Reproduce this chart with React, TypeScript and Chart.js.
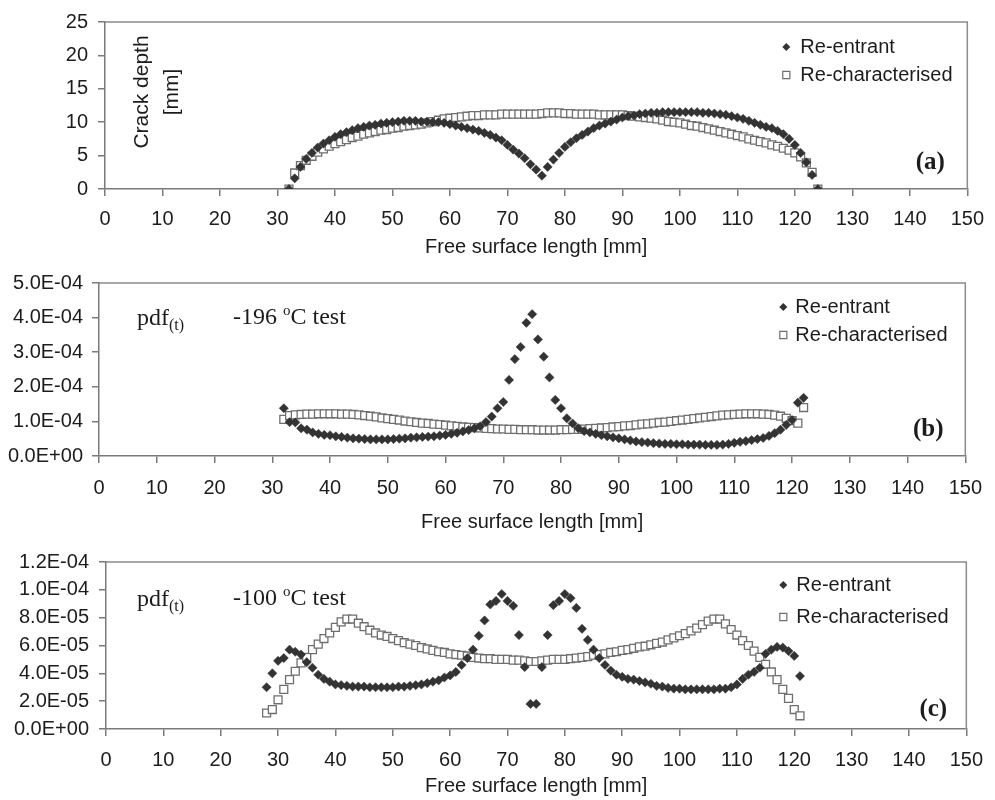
import React, { useEffect, useRef } from 'react';
import { Chart, registerables } from 'chart.js';

Chart.register(...registerables);

// ---------------- DATA ----------------
// (a) Crack depth [mm] vs free surface length [mm]
const xA = [32, 33, 34, 35, 36, 37, 38, 39, 40, 41, 42, 43, 44, 45, 46, 47, 48, 49, 50, 51, 52, 53, 54, 55, 56, 57, 58, 59, 60, 61, 62, 63, 64, 65, 66, 67, 68, 69, 70, 71, 72, 73, 74, 75, 76, 77, 78, 79, 80, 81, 82, 83, 84, 85, 86, 87, 88, 89, 90, 91, 92, 93, 94, 95, 96, 97, 98, 99, 100, 101, 102, 103, 104, 105, 106, 107, 108, 109, 110, 111, 112, 113, 114, 115, 116, 117, 118, 119, 120, 121, 122, 123, 124];
const reentrantA = [
  0, 1.6, 3.3, 4.5, 5.4, 6.2, 6.8, 7.3, 7.8, 8.2,
  8.5, 8.8, 9.1, 9.3, 9.5, 9.6, 9.8, 9.9, 10.0, 10.1,
  10.2, 10.2, 10.2, 10.1, 10.1, 10.0, 10.0, 9.9, 9.7, 9.5,
  9.3, 9.1, 8.9, 8.7, 8.4, 8.1, 7.7, 7.3, 6.6, 5.9,
  5.3, 4.6, 3.7, 2.9, 2.0, 3.3, 4.4, 5.4, 6.3, 7.0,
  7.6, 8.1, 8.6, 9.1, 9.5, 9.8, 10.1, 10.4, 10.7, 10.9,
  11.0, 11.2, 11.3, 11.4, 11.4, 11.5, 11.5, 11.5, 11.5, 11.5,
  11.5, 11.5, 11.4, 11.4, 11.3, 11.2, 11.1, 10.9, 10.7, 10.5,
  10.2, 9.9, 9.6, 9.3, 9.1, 8.7, 8.2, 7.5, 6.6, 5.4,
  4.0, 2.1, 0,
];
const recharA = [
  0, 2.4, 3.5, 4.3, 4.9, 5.5, 6.0, 6.4, 6.8, 7.1,
  7.4, 7.7, 7.9, 8.2, 8.4, 8.6, 8.8, 8.9, 9.1, 9.2,
  9.4, 9.5, 9.6, 9.7, 9.9, 10.1, 10.3, 10.5, 10.6, 10.7,
  10.8, 10.9, 11.0, 11.0, 11.1, 11.1, 11.1, 11.2, 11.2, 11.2,
  11.2, 11.2, 11.2, 11.2, 11.3, 11.4, 11.4, 11.4, 11.3, 11.3,
  11.2, 11.2, 11.2, 11.2, 11.1, 11.1, 11.1, 11.1, 11.1, 11.0,
  10.9, 10.8, 10.7, 10.6, 10.5, 10.3, 10.1, 10.0, 9.9, 9.7,
  9.5, 9.4, 9.2, 9.0, 8.8, 8.6, 8.4, 8.2, 8.0, 7.8,
  7.5, 7.3, 7.1, 6.9, 6.6, 6.4, 6.1, 5.8, 5.4, 4.8,
  3.9, 2.5, 0,
];

// (b) pdf(t), -196 °C test
const xB = [32, 33, 34, 35, 36, 37, 38, 39, 40, 41, 42, 43, 44, 45, 46, 47, 48, 49, 50, 51, 52, 53, 54, 55, 56, 57, 58, 59, 60, 61, 62, 63, 64, 65, 66, 67, 68, 69, 70, 71, 72, 73, 74, 75, 76, 77, 78, 79, 80, 81, 82, 83, 84, 85, 86, 87, 88, 89, 90, 91, 92, 93, 94, 95, 96, 97, 98, 99, 100, 101, 102, 103, 104, 105, 106, 107, 108, 109, 110, 111, 112, 113, 114, 115, 116, 117, 118, 119, 120, 121, 122];
const reentrantB = [
  1.38e-4, 0.98e-4, 0.97e-4, 0.80e-4, 0.76e-4, 0.68e-4, 0.64e-4, 0.61e-4, 0.60e-4, 0.57e-4,
  0.55e-4, 0.53e-4, 0.51e-4, 0.50e-4, 0.49e-4, 0.48e-4, 0.48e-4, 0.48e-4, 0.48e-4, 0.49e-4,
  0.50e-4, 0.51e-4, 0.53e-4, 0.54e-4, 0.55e-4, 0.56e-4, 0.57e-4, 0.59e-4, 0.61e-4, 0.64e-4,
  0.67e-4, 0.71e-4, 0.75e-4, 0.80e-4, 0.86e-4, 0.98e-4, 1.14e-4, 1.38e-4, 1.56e-4, 2.20e-4,
  2.80e-4, 3.15e-4, 3.85e-4, 4.10e-4, 3.37e-4, 2.87e-4, 2.27e-4, 1.62e-4, 1.38e-4, 1.09e-4,
  0.94e-4, 0.80e-4, 0.72e-4, 0.68e-4, 0.64e-4, 0.60e-4, 0.57e-4, 0.54e-4, 0.51e-4, 0.48e-4,
  0.45e-4, 0.42e-4, 0.40e-4, 0.39e-4, 0.37e-4, 0.36e-4, 0.35e-4, 0.35e-4, 0.34e-4, 0.34e-4,
  0.33e-4, 0.33e-4, 0.33e-4, 0.32e-4, 0.32e-4, 0.32e-4, 0.33e-4, 0.35e-4, 0.38e-4, 0.41e-4,
  0.43e-4, 0.46e-4, 0.49e-4, 0.52e-4, 0.58e-4, 0.66e-4, 0.76e-4, 0.90e-4, 1.04e-4, 1.54e-4,
  1.68e-4,
];
const recharB = [
  1.06e-4, 1.17e-4, 1.19e-4, 1.20e-4, 1.21e-4, 1.21e-4, 1.22e-4, 1.22e-4, 1.22e-4, 1.22e-4,
  1.21e-4, 1.21e-4, 1.20e-4, 1.19e-4, 1.17e-4, 1.15e-4, 1.13e-4, 1.10e-4, 1.08e-4, 1.06e-4,
  1.04e-4, 1.01e-4, 0.99e-4, 0.97e-4, 0.95e-4, 0.94e-4, 0.92e-4, 0.91e-4, 0.89e-4, 0.87e-4,
  0.86e-4, 0.84e-4, 0.83e-4, 0.82e-4, 0.81e-4, 0.80e-4, 0.79e-4, 0.78e-4, 0.78e-4, 0.77e-4,
  0.77e-4, 0.76e-4, 0.76e-4, 0.76e-4, 0.75e-4, 0.75e-4, 0.75e-4, 0.75e-4, 0.76e-4, 0.76e-4,
  0.77e-4, 0.77e-4, 0.78e-4, 0.79e-4, 0.80e-4, 0.81e-4, 0.82e-4, 0.84e-4, 0.85e-4, 0.87e-4,
  0.88e-4, 0.90e-4, 0.92e-4, 0.93e-4, 0.95e-4, 0.97e-4, 0.98e-4, 1.00e-4, 1.02e-4, 1.04e-4,
  1.06e-4, 1.08e-4, 1.10e-4, 1.12e-4, 1.14e-4, 1.16e-4, 1.18e-4, 1.19e-4, 1.20e-4, 1.21e-4,
  1.22e-4, 1.22e-4, 1.22e-4, 1.21e-4, 1.20e-4, 1.18e-4, 1.15e-4, 1.09e-4, 1.02e-4, 0.95e-4,
  1.40e-4,
];

// (c) pdf(t), -100 °C test
const xC = [28, 29, 30, 31, 32, 33, 34, 35, 36, 37, 38, 39, 40, 41, 42, 43, 44, 45, 46, 47, 48, 49, 50, 51, 52, 53, 54, 55, 56, 57, 58, 59, 60, 61, 62, 63, 64, 65, 66, 67, 68, 69, 70, 71, 72, 73, 74, 75, 76, 77, 78, 79, 80, 81, 82, 83, 84, 85, 86, 87, 88, 89, 90, 91, 92, 93, 94, 95, 96, 97, 98, 99, 100, 101, 102, 103, 104, 105, 106, 107, 108, 109, 110, 111, 112, 113, 114, 115, 116, 117, 118, 119, 120, 121];
const reentrantC = [
  3.0e-5, 4.0e-5, 4.9e-5, 5.1e-5, 5.7e-5, 5.55e-5, 5.35e-5, 4.8e-5, 4.4e-5, 3.9e-5,
  3.6e-5, 3.4e-5, 3.2e-5, 3.15e-5, 3.1e-5, 3.05e-5, 3.05e-5, 3.05e-5, 3.0e-5, 3.0e-5,
  3.0e-5, 3.0e-5, 3.0e-5, 3.05e-5, 3.05e-5, 3.1e-5, 3.15e-5, 3.2e-5, 3.3e-5, 3.4e-5,
  3.5e-5, 3.7e-5, 3.85e-5, 4.1e-5, 4.6e-5, 5.1e-5, 5.7e-5, 6.7e-5, 7.8e-5, 8.95e-5,
  9.2e-5, 9.7e-5, 9.2e-5, 8.85e-5, 6.75e-5, 4.45e-5, 1.8e-5, 1.8e-5, 4.45e-5, 6.75e-5,
  8.9e-5, 9.2e-5, 9.7e-5, 9.4e-5, 8.7e-5, 7.2e-5, 6.4e-5, 5.7e-5, 5.1e-5, 4.6e-5,
  4.2e-5, 3.9e-5, 3.75e-5, 3.6e-5, 3.55e-5, 3.45e-5, 3.35e-5, 3.25e-5, 3.1e-5, 3.05e-5,
  2.95e-5, 2.9e-5, 2.9e-5, 2.85e-5, 2.85e-5, 2.85e-5, 2.85e-5, 2.85e-5, 2.85e-5, 2.9e-5,
  2.9e-5, 3.0e-5, 3.2e-5, 3.6e-5, 3.9e-5, 4.1e-5, 4.4e-5, 5.4e-5, 5.7e-5, 5.9e-5,
  5.85e-5, 5.6e-5, 5.25e-5, 3.8e-5,
];
const recharC = [
  1.15e-5, 1.4e-5, 2.1e-5, 2.85e-5, 3.55e-5, 4.15e-5, 4.75e-5, 5.15e-5, 5.7e-5, 6.1e-5,
  6.5e-5, 6.9e-5, 7.3e-5, 7.7e-5, 7.9e-5, 7.9e-5, 7.6e-5, 7.35e-5, 7.1e-5, 6.9e-5,
  6.75e-5, 6.65e-5, 6.5e-5, 6.35e-5, 6.2e-5, 6.1e-5, 6.0e-5, 5.85e-5, 5.75e-5, 5.65e-5,
  5.55e-5, 5.5e-5, 5.4e-5, 5.35e-5, 5.3e-5, 5.25e-5, 5.15e-5, 5.1e-5, 5.05e-5, 5.05e-5,
  5.0e-5, 5.0e-5, 5.0e-5, 4.95e-5, 4.95e-5, 4.9e-5, 4.85e-5, 4.85e-5, 4.9e-5, 4.95e-5,
  5.0e-5, 5.0e-5, 5.0e-5, 5.05e-5, 5.1e-5, 5.15e-5, 5.2e-5, 5.3e-5, 5.35e-5, 5.4e-5,
  5.5e-5, 5.55e-5, 5.65e-5, 5.7e-5, 5.8e-5, 5.9e-5, 5.95e-5, 6.05e-5, 6.15e-5, 6.25e-5,
  6.4e-5, 6.55e-5, 6.7e-5, 6.85e-5, 7.05e-5, 7.25e-5, 7.5e-5, 7.75e-5, 7.9e-5, 7.9e-5,
  7.55e-5, 7.15e-5, 6.75e-5, 6.35e-5, 6.0e-5, 5.6e-5, 5.15e-5, 4.65e-5, 4.1e-5, 3.55e-5,
  2.85e-5, 2.2e-5, 1.4e-5, 0.95e-5,
];

const seriesNames = ['Re-entrant', 'Re-characterised'];
const xAxisTitle = 'Free surface length [mm]';
const panelLetters = ['(a)', '(b)', '(c)'];
const testLabels = ['-196 ', '-100 '];

// ---------------- STYLE ----------------
const SANS = '"Liberation Sans", Arial, Helvetica, sans-serif';
const SERIF = '"Liberation Serif", "Times New Roman", serif';
const TEXT = '#1c1c1c';
const AXIS = '#7a7a7a';
const FRAME = '#8c8c8c';
const DIAMOND = '#333333';
const SQUARE_EDGE = '#6e6e6e';

function sci(v: number): string {
  if (Math.abs(v) < 1e-15) return '0.0E+00';
  let e = Math.floor(Math.log10(Math.abs(v)) + 1e-9);
  let m = v / Math.pow(10, e);
  if (Math.abs(m) >= 9.95) { m /= 10; e += 1; }
  const sign = e < 0 ? '-' : '+';
  return m.toFixed(1) + 'E' + sign + String(Math.abs(e)).padStart(2, '0');
}

type Run = { text: string; size: number; family: string; weight?: string; dy?: number };
type Note = {
  fromLeft?: number; fromRight?: number; fromTop?: number; fromBottom?: number;
  align: 'left' | 'center'; rotate?: number; runs: Run[];
};

function drawMarker(ctx: CanvasRenderingContext2D, style: string, x: number, y: number, r: number) {
  ctx.beginPath();
  if (style === 'rectRot') {
    ctx.moveTo(x, y - r); ctx.lineTo(x + r, y); ctx.lineTo(x, y + r); ctx.lineTo(x - r, y); ctx.closePath();
    ctx.fillStyle = DIAMOND; ctx.fill();
  } else {
    const h = r * Math.SQRT1_2;
    ctx.rect(x - h, y - h, 2 * h, 2 * h);
    ctx.fillStyle = '#ffffff'; ctx.fill();
    ctx.strokeStyle = SQUARE_EDGE; ctx.lineWidth = 1.2; ctx.stroke();
  }
}

const decorPlugin = {
  id: 'decor',
  beforeDatasetsDraw(chart: any) {
    const { ctx, chartArea: a } = chart;
    ctx.save();
    ctx.strokeStyle = FRAME;
    ctx.lineWidth = 1.5;
    ctx.beginPath();
    ctx.moveTo(a.left, a.top);
    ctx.lineTo(a.right, a.top);
    ctx.lineTo(a.right, a.bottom);
    ctx.stroke();
    ctx.restore();
  },
  afterDraw(chart: any, _args: any, opts: any) {
    const { ctx, chartArea: a } = chart;
    ctx.save();
    // legend inside the plot area
    const L = opts.legend;
    chart.data.datasets.forEach((ds: any, i: number) => {
      const y = a.top + L.top + i * L.spacing;
      drawMarker(ctx, ds.pointStyle, a.right - L.markerFromRight, y, ds.pointStyle === 'rectRot' ? 4 : 5);
      ctx.font = `20px ${SANS}`;
      ctx.fillStyle = TEXT;
      ctx.textAlign = 'left';
      ctx.textBaseline = 'middle';
      ctx.fillText(ds.label, a.right - L.textFromRight, y);
    });
    // notes
    (opts.notes as Note[]).forEach((n) => {
      const x = n.fromLeft !== undefined ? a.left + n.fromLeft : a.right - (n.fromRight || 0);
      const y = n.fromTop !== undefined ? a.top + n.fromTop : a.bottom - (n.fromBottom || 0);
      ctx.save();
      ctx.translate(x, y);
      if (n.rotate) ctx.rotate(n.rotate);
      ctx.textAlign = 'left';
      ctx.textBaseline = n.align === 'center' ? 'middle' : 'alphabetic';
      ctx.fillStyle = TEXT;
      let total = 0;
      n.runs.forEach((r) => {
        ctx.font = `${r.weight || 'normal'} ${r.size}px ${r.family}`;
        total += ctx.measureText(r.text).width;
      });
      let cx = n.align === 'center' ? -total / 2 : 0;
      n.runs.forEach((r) => {
        ctx.font = `${r.weight || 'normal'} ${r.size}px ${r.family}`;
        ctx.fillText(r.text, cx, r.dy || 0);
        cx += ctx.measureText(r.text).width;
      });
      ctx.restore();
    });
    ctx.restore();
  },
};

type PanelCfg = {
  height: number;
  xs: number[];
  re: number[];
  rc: number[];
  yMax: number;
  yStep: number;
  sciTicks: boolean;
  yWidth: number;
  padTop: number;
  padRight: number;
  xHeight: number;
  xTickPad: number;
  yTickPad: number;
  titlePadBottom: number;
  legend: { top: number; spacing: number; markerFromRight: number; textFromRight: number };
  notes: Note[];
};

function pdfNotes(testIdx: number, pdfLeft: number, testLeft: number, base: number): Note[] {
  return [
    {
      fromLeft: pdfLeft, fromTop: base, align: 'left',
      runs: [
        { text: 'pdf', size: 24, family: SERIF },
        { text: '(t)', size: 16, family: SERIF, dy: 5 },
      ],
    },
    {
      fromLeft: testLeft, fromTop: base - 1, align: 'left',
      runs: [
        { text: testLabels[testIdx], size: 24, family: SERIF },
        { text: 'o', size: 15, family: SERIF, dy: -9 },
        { text: 'C test', size: 24, family: SERIF },
      ],
    },
  ];
}

function letterNote(i: number, fromRight: number, fromBottom: number): Note {
  return {
    fromRight, fromBottom, align: 'center',
    runs: [{ text: panelLetters[i], size: 25, family: SERIF, weight: 'bold' }],
  };
}

const panels: PanelCfg[] = [
  {
    height: 262, xs: xA, re: reentrantA, rc: recharA, yMax: 25, yStep: 5, sciTicks: false,
    yWidth: 105, padTop: 22, padRight: 22, xHeight: 73, xTickPad: 11, yTickPad: 10, titlePadBottom: 3,
    legend: { top: 25, spacing: 28, markerFromRight: 181, textFromRight: 167 },
    notes: [
      { fromLeft: 37, fromTop: 70, align: 'center', rotate: -Math.PI / 2, runs: [{ text: 'Crack depth', size: 21, family: SANS }] },
      { fromLeft: 67, fromTop: 70, align: 'center', rotate: -Math.PI / 2, runs: [{ text: '[mm]', size: 21, family: SANS }] },
      letterNote(0, 37, 26),
    ],
  },
  {
    height: 278, xs: xB, re: reentrantB, rc: recharB, yMax: 5e-4, yStep: 1e-4, sciTicks: true,
    yWidth: 99, padTop: 21, padRight: 22, xHeight: 84, xTickPad: 13, yTickPad: 9, titlePadBottom: 6,
    legend: { top: 24, spacing: 28, markerFromRight: 182, textFromRight: 170 },
    notes: [...pdfNotes(0, 38, 134, 42), letterNote(1, 37, 26)],
  },
  {
    height: 260, xs: xC, re: reentrantC, rc: recharC, yMax: 1.2e-4, yStep: 2e-5, sciTicks: true,
    yWidth: 106, padTop: 16, padRight: 20, xHeight: 71, xTickPad: 12, yTickPad: 10, titlePadBottom: 2,
    legend: { top: 23, spacing: 32, markerFromRight: 183, textFromRight: 170 },
    notes: [...pdfNotes(1, 31, 127, 44), letterNote(2, 33, 19)],
  },
];

function Panel({ cfg }: { cfg: PanelCfg }) {
  const ref = useRef<HTMLCanvasElement>(null);
  useEffect(() => {
    if (!ref.current) return;
    const chart = new Chart(ref.current, {
      type: 'scatter',
      data: {
        datasets: [
          {
            label: seriesNames[0],
            data: cfg.xs.map((x, i) => ({ x, y: cfg.re[i] })),
            pointStyle: 'rectRot',
            pointRadius: 4.6,
            backgroundColor: DIAMOND,
            borderColor: DIAMOND,
            borderWidth: 0.5,
            showLine: false,
          },
          {
            label: seriesNames[1],
            data: cfg.xs.map((x, i) => ({ x, y: cfg.rc[i] })),
            pointStyle: 'rect',
            pointRadius: 5.6,
            backgroundColor: '#ffffff',
            borderColor: SQUARE_EDGE,
            borderWidth: 1.3,
            showLine: false,
          },
        ],
      },
      options: {
        animation: false,
        responsive: true,
        maintainAspectRatio: false,
        events: [],
        layout: { padding: { top: cfg.padTop, right: cfg.padRight, left: 0, bottom: 0 } },
        plugins: {
          legend: { display: false },
          tooltip: { enabled: false },
          decor: { legend: cfg.legend, notes: cfg.notes },
        } as any,
        scales: {
          x: {
            type: 'linear',
            min: 0,
            max: 150,
            afterFit: (s: any) => { s.height = cfg.xHeight; },
            ticks: {
              stepSize: 10,
              color: TEXT,
              font: { family: SANS, size: 20 },
              padding: cfg.xTickPad,
              maxRotation: 0,
              autoSkip: false,
            },
            grid: { drawOnChartArea: false, drawTicks: true, tickLength: 7, color: AXIS, lineWidth: 1.5 },
            border: { display: true, color: AXIS, width: 1.5 },
            title: {
              display: true,
              text: xAxisTitle,
              color: TEXT,
              font: { family: SANS, size: 20 },
              padding: { top: 0, bottom: cfg.titlePadBottom },
            },
          },
          y: {
            type: 'linear',
            min: 0,
            max: cfg.yMax,
            afterFit: (s: any) => { s.width = cfg.yWidth; },
            ticks: {
              stepSize: cfg.yStep,
              color: TEXT,
              font: { family: SANS, size: 20 },
              padding: cfg.yTickPad,
              callback: (v: any) => (cfg.sciTicks ? sci(Number(v)) : String(Math.round(Number(v)))),
            },
            grid: { drawOnChartArea: false, drawTicks: true, tickLength: 7, color: AXIS, lineWidth: 1.5 },
            border: { display: true, color: AXIS, width: 1.5 },
          },
        },
      },
      plugins: [decorPlugin as any],
    });
    return () => chart.destroy();
  }, [cfg]);
  return (
    <div style={{ position: 'relative', width: 995, height: cfg.height }}>
      <canvas ref={ref} />
    </div>
  );
}

export default function App() {
  return (
    <div style={{ position: 'absolute', left: 0, top: 0, width: 995, height: 800, background: '#ffffff' }}>
      {panels.map((p, i) => (
        <Panel key={i} cfg={p} />
      ))}
    </div>
  );
}
